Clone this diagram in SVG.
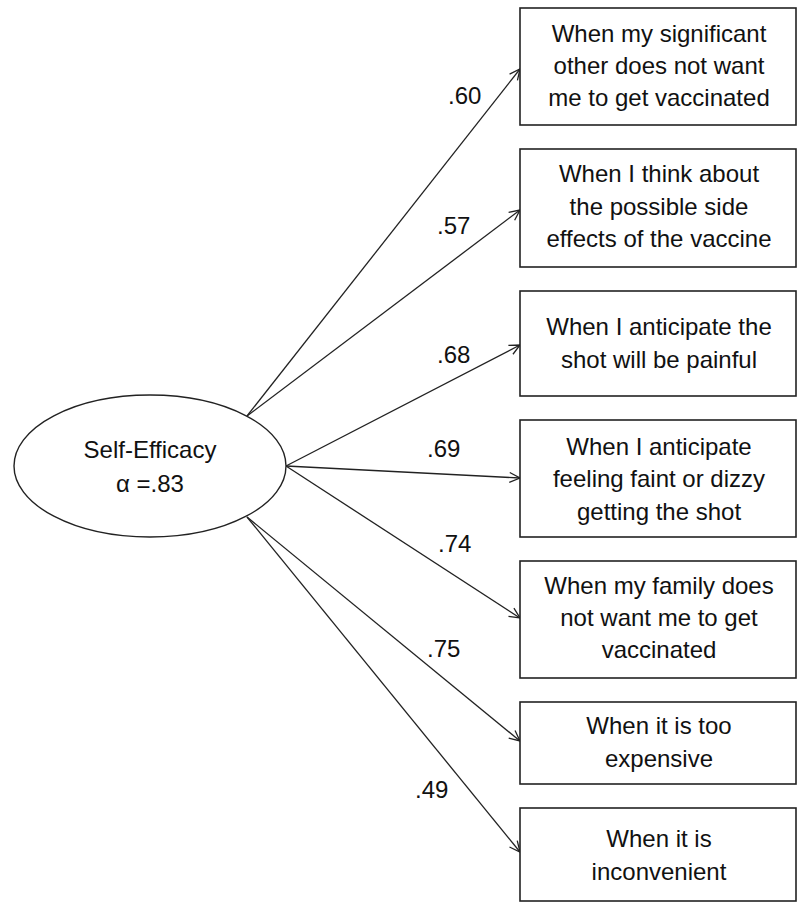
<svg xmlns="http://www.w3.org/2000/svg" width="797" height="902" viewBox="0 0 797 902">
<style>
text{font-family:"Liberation Sans",Arial,sans-serif;font-size:24px;fill:#111;}
.c{text-anchor:middle;}
.box{fill:#fff;stroke:#222;stroke-width:1.6;}
.ell{fill:#fff;stroke:#222;stroke-width:1.4;}
.edge{stroke:#222;stroke-width:1.3;fill:none;marker-end:url(#arr);}
</style>
<defs>
<marker id="arr" markerUnits="userSpaceOnUse" viewBox="0 0 12 12" refX="11.5" refY="6" markerWidth="12" markerHeight="12" orient="auto">
<path d="M1,1 L11.5,6 L1,11" fill="none" stroke="#222" stroke-width="1.3"/>
</marker>
</defs>
<rect width="797" height="902" fill="#fff"/>
<g id="connectors">
<line class="edge" x1="247" y1="416" x2="520" y2="69"/>
<line class="edge" x1="247" y1="416" x2="520" y2="210"/>
<line class="edge" x1="286" y1="466" x2="520" y2="345"/>
<line class="edge" x1="286" y1="466" x2="520" y2="478"/>
<line class="edge" x1="286" y1="466" x2="520" y2="618"/>
<line class="edge" x1="247" y1="517" x2="520" y2="741"/>
<line class="edge" x1="247" y1="517" x2="520" y2="852"/>
<text x="448" y="104">.60</text>
<text x="437" y="234">.57</text>
<text x="437" y="363">.68</text>
<text x="427" y="457">.69</text>
<text x="438" y="552">.74</text>
<text x="427" y="657">.75</text>
<text x="415" y="798">.49</text>
</g>
<g id="self-efficacy">
<ellipse class="ell" cx="150" cy="466" rx="136" ry="71"/>
<text class="c" x="150" y="458">Self-Efficacy</text>
<text class="c" x="150" y="492">α =.83</text>
</g>
<g id="item1">
<rect class="box" x="520" y="8" width="276" height="117"/>
<text class="c" x="659" y="42">When my significant</text>
<text class="c" x="659" y="74">other does not want</text>
<text class="c" x="659" y="106">me to get vaccinated</text>
</g>
<g id="item2">
<rect class="box" x="520" y="149" width="276" height="118"/>
<text class="c" x="659" y="182">When I think about</text>
<text class="c" x="659" y="215">the possible side</text>
<text class="c" x="659" y="247">effects of the vaccine</text>
</g>
<g id="item3">
<rect class="box" x="520" y="291" width="276" height="105"/>
<text class="c" x="659" y="335">When I anticipate the</text>
<text class="c" x="659" y="368">shot will be painful</text>
</g>
<g id="item4">
<rect class="box" x="520" y="420" width="276" height="117"/>
<text class="c" x="659" y="455">When I anticipate</text>
<text class="c" x="659" y="487">feeling faint or dizzy</text>
<text class="c" x="659" y="520">getting the shot</text>
</g>
<g id="item5">
<rect class="box" x="520" y="561" width="276" height="117"/>
<text class="c" x="659" y="594">When my family does</text>
<text class="c" x="659" y="626">not want me  to get</text>
<text class="c" x="659" y="658">vaccinated</text>
</g>
<g id="item6">
<rect class="box" x="520" y="702" width="276" height="82"/>
<text class="c" x="659" y="734">When it is too</text>
<text class="c" x="659" y="767">expensive</text>
</g>
<g id="item7">
<rect class="box" x="520" y="808" width="276" height="93"/>
<text class="c" x="659" y="847">When it is</text>
<text class="c" x="659" y="880">inconvenient</text>
</g>
</svg>
